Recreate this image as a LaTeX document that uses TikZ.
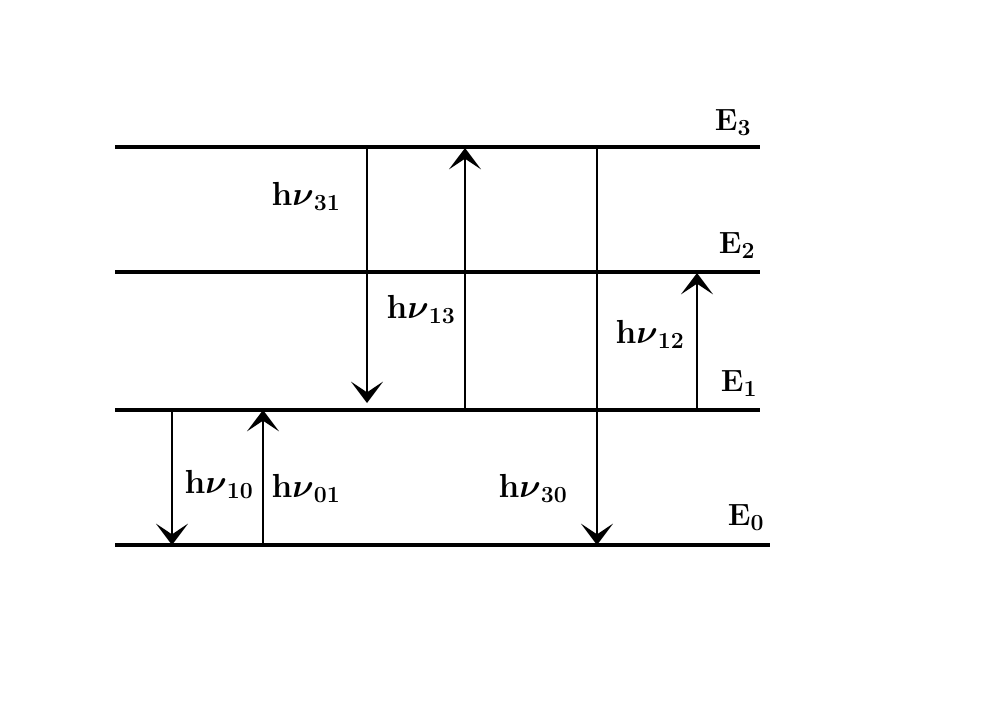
\documentclass[tikz,border=0pt]{standalone}
\usepackage{tikz}
\usepackage{amsmath}
\usetikzlibrary{arrows.meta}
\tikzset{
  level/.style = {line width=3pt},% niveau d'energie
  trans/.style = {line width=1.8pt,
    -{Stealth[length=16pt, width=24pt, inset=8pt]}},% transition
  lab/.style = {inner sep=0pt, font=\fontsize{25}{27}\selectfont\bfseries},% etiquette hv
  elab/.style = {inner sep=0pt, font=\fontsize{23}{25}\selectfont\bfseries}% etiquette E
}
\newcommand{\hnu}[1]{h$\boldsymbol{\nu}_{\mathbf{#1}}$}
\begin{document}
\begin{tikzpicture}[x=0.75pt, y=-0.75pt]
\useasboundingbox (0,0) rectangle (984,700);
% niveaux
\coordinate (e3l) at (115,147); \coordinate (e3r) at (760,147);
\coordinate (e2l) at (115,272); \coordinate (e2r) at (760,272);
\coordinate (e1l) at (115,410); \coordinate (e1r) at (760,410);
\coordinate (e0l) at (115,545); \coordinate (e0r) at (770,545);
\draw [level] (e3l) -- (e3r);
\draw [level] (e2l) -- (e2r);
\draw [level] (e1l) -- (e1r);
\draw [level] (e0l) -- (e0r);
\node [elab] (E3) at (733,123) {E$_{\mathbf{3}}$};
\node [elab] (E2) at (737,246) {E$_{\mathbf{2}}$};
\node [elab] (E1) at (739,384) {E$_{\mathbf{1}}$};
\node [elab] (E0) at (746,518) {E$_{\mathbf{0}}$};
% transitions
\coordinate (a31) at (367,147); \coordinate (b31) at (367,403);
\coordinate (a13) at (465,410); \coordinate (b13) at (465,148);
\coordinate (a30) at (597,147); \coordinate (b30) at (597,545);
\coordinate (a12) at (697,410); \coordinate (b12) at (697,273);
\coordinate (a10) at (172,410); \coordinate (b10) at (172,545);
\coordinate (a01) at (263,545); \coordinate (b01) at (263,410);
\draw [trans] (a31) -- (b31);
\draw [trans] (a13) -- (b13);
\draw [trans] (a30) -- (b30);
\draw [trans] (a12) -- (b12);
\draw [trans] (a10) -- (b10);
\draw [trans] (a01) -- (b01);
\node [lab] (l31) at (306,196) {\hnu{31}};
\node [lab] (l13) at (421,309) {\hnu{13}};
\node [lab] (l30) at (533,488) {\hnu{30}};
\node [lab] (l12) at (650,334) {\hnu{12}};
\node [lab] (l10) at (219,484) {\hnu{10}};
\node [lab] (l01) at (306,488) {\hnu{01}};
\end{tikzpicture}
\end{document}
